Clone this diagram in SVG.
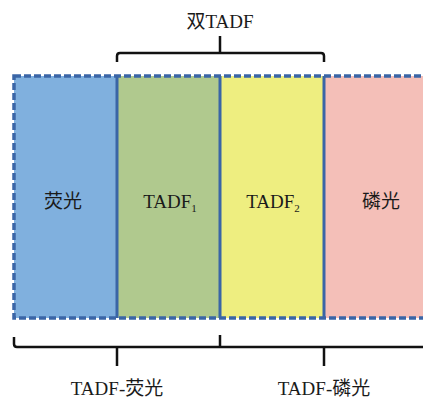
<svg xmlns="http://www.w3.org/2000/svg" width="423" height="399" viewBox="0 0 423 399">
<style>
.t{font-family:"Liberation Serif","Noto Sans CJK SC",serif;font-size:19px;fill:#1a1a1a;text-anchor:middle}
.br{fill:none;stroke:#111;stroke-width:2.5;stroke-linejoin:round}
.div{stroke:#3a65a6;stroke-width:3}
</style>
<rect width="423" height="399" fill="#fff"/>
<g id="fluor"><rect x="14" y="76" width="103" height="242" fill="#80b0de"/><text class="t" x="63" y="208">荧光</text></g>
<g id="tadf1"><rect x="117" y="76" width="103" height="242" fill="#b0c98e"/><text class="t" x="170" y="208">TADF<tspan font-size="11" dy="4">1</tspan></text></g>
<g id="tadf2"><rect x="220" y="76" width="104" height="242" fill="#eeee80"/><text class="t" x="273" y="208">TADF<tspan font-size="11" dy="4">2</tspan></text></g>
<g id="phos"><rect x="324" y="76" width="110" height="242" fill="#f4bfb8"/><text class="t" x="381" y="208">磷光</text></g>
<g id="connectors">
<rect x="14" y="76" width="420" height="242" fill="none" stroke="#3a65a6" stroke-width="3.5" stroke-dasharray="7 3"/>
<line class="div" x1="117" y1="76" x2="117" y2="318"/>
<line class="div" x1="220" y1="76" x2="220" y2="318"/>
<line class="div" x1="324" y1="76" x2="324" y2="318"/>
<path class="br" d="M117 62 V56 Q117 53 120 53 H321 Q324 53 324 56 V62 M220 53 V36"/>
<path class="br" d="M14 337 V344 Q14 347 17 347 H423 M117 347 V366 M324 347 V366 M220 347 V335"/>
</g>
<g id="labels">
<text class="t" x="220" y="28">双TADF</text>
<text class="t" x="117" y="395">TADF-荧光</text>
<text class="t" x="324" y="395">TADF-磷光</text>
</g>
</svg>
